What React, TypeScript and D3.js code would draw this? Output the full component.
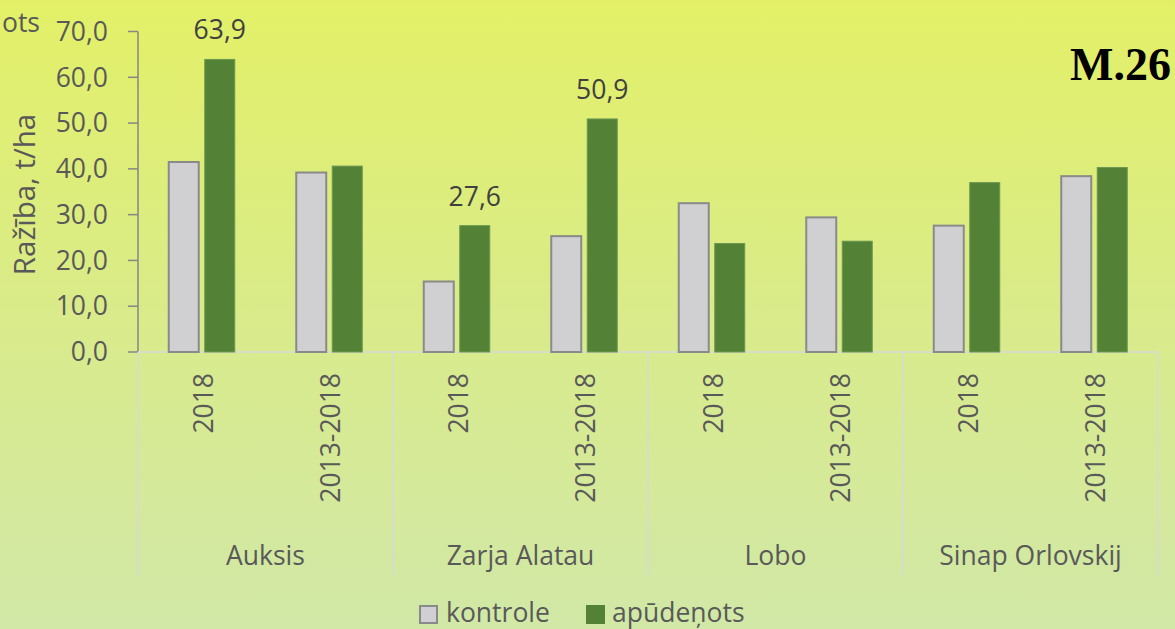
import React from "react";
import * as d3 from "d3";

// varieties (outer categories) and periods (inner categories)
const varieties = ["Auksis", "Zarja Alatau", "Lobo", "Sinap Orlovskij"];
const periods = ["2018", "2013-2018"];
const seriesNames = ["kontrole", "apūdeņots"];

// yields, t/ha, in order variety x period
const kontrole = [41.5, 39.2, 15.4, 25.3, 32.5, 29.4, 27.6, 38.4];
const apudenots = [63.9, 40.6, 27.6, 50.9, 23.7, 24.2, 37.0, 40.3];
// only these green bars carry a data label
const labeledBars = [0, 2, 3];

const yTicks = [0, 10, 20, 30, 40, 50, 60, 70];

const W = 1175;
const H = 629;
const left = 138;
const right = 1158;
const top = 31.5;
const bottom = 352;

const FONT = "'Open Sans', sans-serif";
const fmt = (v: number) => d3.format(".1f")(v).replace(".", ",");

const App = () => {
  const x0 = d3.scaleBand<string>().domain(varieties).range([left, right]);
  const cells = varieties.flatMap((v) => periods.map((p) => v + "|" + p));
  const xc = d3.scaleBand<string>().domain(cells).range([left, right]);
  const y = d3.scaleLinear().domain([0, 70]).range([bottom, top]);

  // bar pair inside a period cell: two 30px bars, 6px gap
  const x1 = d3
    .scaleBand<string>()
    .domain(seriesNames)
    .range([-33, 33])
    .paddingInner(1 / 6);

  const colors = {
    kontrole: { fill: "#d0cfd1", stroke: "#8a8a8a" },
    "apūdeņots": { fill: "#538135", stroke: "#6c9850" },
  };

  const rows = cells.map((c, i) => ({
    cell: c,
    period: c.split("|")[1],
    cx: (xc(c) as number) + xc.bandwidth() / 2,
    values: [kontrole[i], apudenots[i]],
  }));

  return (
    <svg
      width={W}
      height={H}
      style={{ position: "absolute", left: 0, top: 0 }}
      fontFamily={FONT}
    >
      <defs>
        <linearGradient id="bg" x1="0" y1="0" x2="0" y2="1">
          <stop offset="0%" stopColor="#e3f067" />
          <stop offset="50%" stopColor="#d9eb8a" />
          <stop offset="100%" stopColor="#d1e8a7" />
        </linearGradient>
      </defs>
      <rect width={W} height={H} fill="url(#bg)" />

      <text x={40} y={32} textAnchor="end" fontSize={26.5} fill="#595959">
        ots
      </text>

      {/* y axis */}
      <line x1={left} x2={left} y1={y(70)} y2={y(0)} stroke="#868686" strokeWidth={1.5} />
      {yTicks.map((t) => (
        <g key={t} transform={`translate(0,${y(t)})`}>
          <line x1={left - 10} x2={left} stroke="#868686" strokeWidth={1.5} />
          <text x={108} dy="0.35em" textAnchor="end" fontSize={26.5} fill="#595959">
            {fmt(t)}
          </text>
        </g>
      ))}
      <text
        transform={`translate(25,194.5) rotate(-90)`}
        dy="0.35em"
        textAnchor="middle"
        fontSize={29.5}
        fill="#595959"
      >
        Ražība, t/ha
      </text>

      {/* category axis */}
      <line x1={left} x2={right} y1={bottom} y2={bottom} stroke="#d9d9d9" strokeWidth={1.5} />
      {[...varieties.map((v) => x0(v) as number), right].map((xx, i) => (
        <line key={i} x1={xx} x2={xx} y1={bottom} y2={575} stroke="#d9d9d9" strokeWidth={1.5} />
      ))}
      {rows.map((r) => (
        <text
          key={r.cell}
          transform={`translate(${r.cx + 1.5},373) rotate(-90)`}
          dy="0.35em"
          textAnchor="end"
          fontSize={26.5}
          fill="#595959"
        >
          {r.period}
        </text>
      ))}
      {varieties.map((v) => (
        <text
          key={v}
          x={(x0(v) as number) + x0.bandwidth() / 2}
          y={565}
          textAnchor="middle"
          fontSize={26.5}
          fill="#595959"
        >
          {v}
        </text>
      ))}

      {/* bars */}
      {rows.map((r, i) => (
        <g key={r.cell} transform={`translate(${r.cx},0)`}>
          {seriesNames.map((s, k) => (
            <rect
              key={s}
              x={x1(s) as number}
              y={y(r.values[k])}
              width={x1.bandwidth()}
              height={y(0) - y(r.values[k])}
              fill={colors[s].fill}
              stroke={colors[s].stroke}
              strokeWidth={k === 0 ? 2 : 1}
            />
          ))}
          {labeledBars.includes(i) && (
            <text
              x={(x1("apūdeņots") as number) + x1.bandwidth() / 2}
              y={y(r.values[1]) - 20}
              textAnchor="middle"
              fontSize={26.5}
              fill="#404040"
            >
              {fmt(r.values[1])}
            </text>
          )}
        </g>
      ))}

      {/* legend */}
      <rect x={420} y={606} width={17} height={17} fill={colors.kontrole.fill} stroke={colors.kontrole.stroke} strokeWidth={2} />
      <text x={446} y={622} fontSize={26.5} fill="#595959">
        kontrole
      </text>
      <rect x={586} y={605} width={19} height={19} fill={colors["apūdeņots"].fill} />
      <text x={612} y={622} fontSize={26.5} fill="#595959">
        apūdeņots
      </text>

      <text
        x={1070}
        y={80}
        fontFamily="'Liberation Serif', 'Times New Roman', serif"
        fontWeight="bold"
        fontSize={46}
        fill="#000"
      >
        M.26
      </text>
    </svg>
  );
};

export default App;
